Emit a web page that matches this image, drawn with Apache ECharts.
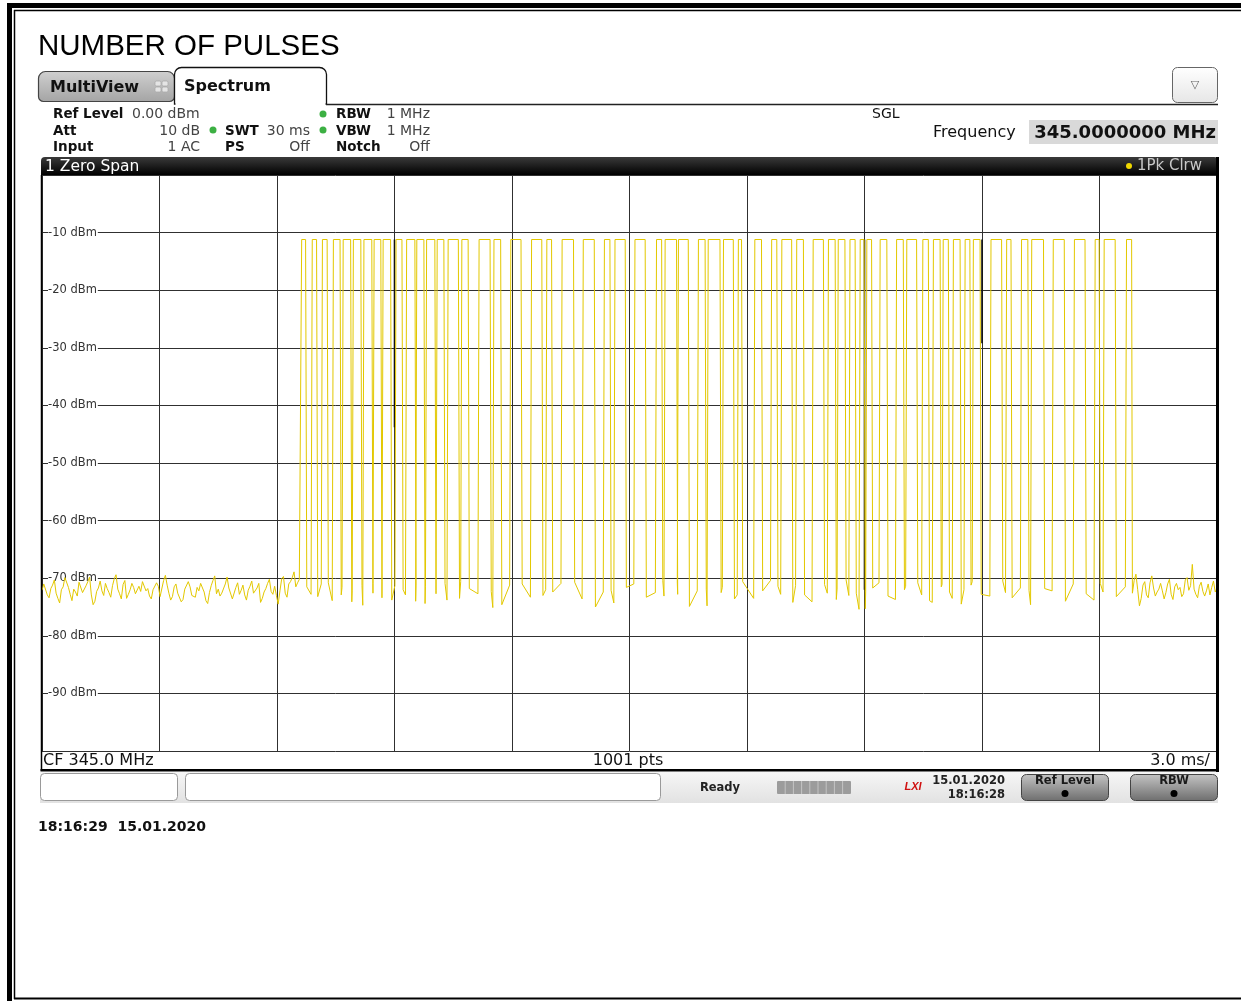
<!DOCTYPE html>
<html><head><meta charset="utf-8">
<script src="https://cdn.jsdelivr.net/npm/echarts@6/dist/echarts.min.js"></script>
<style>html,body{margin:0;padding:0;background:#fff}#c{width:1241px;height:1001px}</style>
</head><body><div id="c"></div>
<script>
// ---- data ----
const yTicks = [-10,-20,-30,-40,-50,-60,-70,-80,-90];
const pulseTop = -11.2;
const pulseRise = [6.63,6.90,7.16,7.44,7.69,7.95,8.22,8.48,8.71,9.04,9.31,9.57,9.82,10.09,10.37,10.72,11.16,11.54,11.97,12.50,12.89,13.28,13.82,14.36,14.63,15.14,15.69,15.91,16.25,16.76,17.01,17.40,17.78,18.20,18.63,18.89,19.27,19.69,20.08,20.33,20.63,20.89,21.06,21.40,21.82,22.08,22.49,22.76,23.01,23.27,23.57,23.78,24.23,24.63,25.01,25.27,25.82,26.36,26.89,27.12,27.69];
const pulseFall = [6.73,7.01,7.28,7.61,7.88,8.14,8.42,8.65,8.90,9.19,9.52,9.75,10.03,10.26,10.63,10.88,11.44,11.71,12.23,12.76,13.01,13.57,14.10,14.50,14.89,15.40,15.82,16.20,16.50,16.93,17.31,17.65,17.86,18.37,18.76,19.14,19.44,19.95,20.25,20.50,20.76,20.99,21.18,21.57,21.99,22.33,22.63,22.93,23.14,23.44,23.69,23.95,24.50,24.74,25.17,25.57,26.10,26.63,26.99,27.40,27.82];
const noiseLeft = [-72.1,-71.0,-70.8,-72.9,-73.4,-71.8,-71.2,-70.3,-72.6,-73.5,-74.3,-72.0,-71.5,-69.9,-70.2,
-71.6,-72.8,-73.9,-71.9,-72.4,-73.1,-70.7,-71.0,-72.5,-72.4,-71.3,-70.6,-69.8,-72.9,-74.6,
-74.0,-72.3,-71.7,-70.5,-72.2,-73.0,-70.9,-71.8,-72.5,-73.3,-71.3,-70.1,-69.4,-71.9,-72.7,
-73.6,-71.1,-70.4,-73.5,-72.8,-72.0,-70.9,-71.6,-72.7,-73.0,-71.4,-72.3,-70.6,-70.7,-72.2,
-71.8,-73.1,-73.6,-72.0,-72.1,-70.8,-71.4,-73.2,-72.9,-70.4,-69.5,-71.2,-72.6,-73.8,-73.2,
-71.5,-71.0,-72.6,-72.4,-74.1,-73.7,-71.9,-72.0,-70.6,-71.5,-73.0,-72.8,-73.3,-71.6,-72.2,
-70.9,-71.1,-72.4,-73.9,-74.4,-72.5,-71.3,-70.4,-69.6,-72.7,-71.9,-73.1,-72.6,-72.3,-71.0,
-69.8,-71.7,-72.0,-73.6,-73.4,-71.6,-70.8,-72.8,-72.1,-71.2,-72.9,-73.8,-72.1,-71.4,-70.5,
-72.6,-72.9,-71.7,-70.9,-74.2,-73.5,-72.4,-71.8,-70.9,-70.2,-72.3,-72.8,-71.4,-73.0,-74.5,
-72.2,-70.1,-69.7,-72.6,-73.3,-71.0,-70.6,-69.9,-68.9,-71.5,-70.8,-70.2];
const noiseRight = [-72.6,-70.4,-69.3,-72.0,-74.8,-73.5,-71.2,-70.6,-72.9,-73.4,
-70.8,-69.6,-71.7,-73.1,-72.4,-71.9,-70.9,-72.2,-73.6,-72.5,
-71.0,-70.2,-72.8,-73.7,-71.5,-70.9,-72.0,-71.6,-73.2,-72.7,
-70.3,-69.9,-72.1,-71.3,-67.6,-71.9,-72.8,-73.4,-71.4,-70.7,
-72.3,-73.1,-72.2,-71.0,-72.9,-71.6,-70.5,-72.4,-71.7];
const gapFloorA = [-71.5,-73.2,-70.8,-72.9,-74.1,-71.3,-72.6,-70.5,-73.8,-72.0,
-71.2,-74.4,-72.7,-70.9,-73.5,-71.8,-72.3,-74.6,-71.0,-73.0,
-72.4,-70.7,-75.0,-72.1,-71.6,-73.3,-70.4,-72.8,-74.9,-71.9,
-72.5,-73.6,-70.6,-72.2,-71.4,-74.2,-72.9,-71.1,-73.7,-70.3,
-72.6,-75.3,-71.7,-73.1,-72.0,-70.8,-73.9,-71.5,-72.4,-74.5,
-71.2,-72.8,-70.5,-73.4,-72.1,-71.8,-74.0,-72.7,-70.9,-73.2];
const gapFloorB = [-72.8,-71.0,-73.9,-71.6,-72.2,-74.7,-70.9,-73.4,-71.3,-72.9,
-74.0,-71.5,-72.1,-73.8,-70.6,-72.7,-75.1,-71.2,-73.3,-72.0,
-70.9,-73.6,-72.4,-74.3,-71.0,-72.5,-73.1,-70.7,-72.2,-74.8,
-71.6,-72.9,-73.5,-70.4,-72.8,-71.3,-74.1,-72.6,-71.9,-73.0,
-75.4,-72.3,-70.8,-73.7,-71.4,-72.9,-74.2,-71.1,-73.5,-72.0,
-70.6,-73.1,-72.5,-71.7,-74.6,-72.2,-71.0,-73.8,-72.4,-71.5];
// dark edge segments seen on the trace at some grid columns: [ms, top dBm, bottom dBm]
const darkEdgeMs = [9.0, 21.0, 24.0];
const darkEdgeLow = [-43.8, -72.0, -29.2];
const sweepMs = 30, pointMs = 0.03, noiseStepMs = 0.045, noiseRightStart = 27.84;

// ---- build trace ----
const trace = [];
noiseLeft.forEach((v,i)=>trace.push([+(i*noiseStepMs).toFixed(3), v]));
for (let i=0;i<pulseRise.length;i++){
  trace.push([pulseRise[i], pulseTop]);
  trace.push([pulseFall[i], pulseTop]);
  if (i < pulseRise.length-1){
    trace.push([+(pulseFall[i]+pointMs).toFixed(3), gapFloorA[i]]);
    trace.push([+(pulseRise[i+1]-pointMs).toFixed(3), gapFloorB[i]]);
  }
}
noiseRight.forEach((v,i)=>trace.push([+(noiseRightStart+i*noiseStepMs).toFixed(3), v]));
const edges = [];
darkEdgeMs.forEach((t,i)=>{ edges.push([t,pulseTop]); edges.push([t,darkEdgeLow[i]]); edges.push([t,null]); });

// ---- helpers ----
const UI = '"DejaVu Sans", Verdana, sans-serif';
function T(text,x,y,size,o){o=o||{};return {type:'text',silent:true,z:o.z||50,style:{text:text,x:x,y:y,font:(o.w||'normal')+' '+size+'px '+(o.f||UI),fill:o.c||'#000',align:o.a||'left',verticalAlign:o.va||'middle'}};}
function R(x,y,w,h,fill,o){o=o||{};return {type:'rect',silent:true,z:o.z||40,shape:{x:x,y:y,width:w,height:h,r:o.r||0},style:{fill:fill,stroke:o.s||null,lineWidth:o.lw||1}};}
function L(x1,y1,x2,y2,c,w,z){return {type:'line',silent:true,z:z||60,shape:{x1:x1,y1:y1,x2:x2,y2:y2},style:{stroke:c,lineWidth:w}};}
function C(cx,cy,r,fill,z){return {type:'circle',silent:true,z:z||60,shape:{cx:cx,cy:cy,r:r},style:{fill:fill}};}
function grad(a,b){return {type:'linear',x:0,y:0,x2:0,y2:1,colorStops:[{offset:0,color:a},{offset:1,color:b}]};}

const g = [];
// outer frame
g.push(R(7,3,1234,5,'#000',{z:90}));
g.push(R(7,3,5,998,'#000',{z:90}));
g.push(L(14,10.5,1241,10.5,'#000',1.5,90));
g.push(L(14.5,10,14.5,999,'#000',1.5,90));
g.push(L(14,998.5,1241,998.5,'#000',2,90));
// title
g.push(T('NUMBER OF PULSES',38,47,29.5,{f:'"Liberation Sans", Arial, sans-serif'}));
// tabs
g.push(R(38.5,71.5,136,30,grad('#d0d0d0','#a4a4a4'),{r:[7,7,5,5],s:'#444',lw:1.2}));
g.push(T('MultiView',50,88,16,{w:'bold',c:'#111'}));
g.push(R(155,81,6,5,'#e4e4e4',{r:1.5,s:'#aaa',lw:0.8,z:45}));
g.push(R(162,81,6,5,'#e4e4e4',{r:1.5,s:'#aaa',lw:0.8,z:45}));
g.push(R(155,87,6,5,'#e4e4e4',{r:1.5,s:'#aaa',lw:0.8,z:45}));
g.push(R(162,87,6,5,'#e4e4e4',{r:1.5,s:'#aaa',lw:0.8,z:45}));
g.push(R(174.5,67.5,152,36.5,'#fff',{r:[7,7,0,0],s:'#111',lw:1.3,z:45}));
g.push(L(175.5,104.2,325.5,104.2,'#fff',2.2,47));
g.push(T('Spectrum',184,87,16,{w:'bold',c:'#111'}));
g.push(L(326,104.5,1218,104.5,'#222',1.5));
// dropdown button
g.push(R(1172.5,67.5,45,35,grad('#ffffff','#e6e6e6'),{r:5,s:'#666',lw:1}));
g.push(T('\u25BD',1195,85,11,{c:'#666',a:'center'}));
// info block
const lab={w:'bold',c:'#111'}, val={c:'#444'};
g.push(T('Ref Level',53,114,13.5,lab)); g.push(T('0.00 dBm',132,114,14,val));
g.push(T('Att',53,131,13.5,lab)); g.push(T('10 dB',200,131,14,Object.assign({a:'right'},val)));
g.push(T('Input',53,147,13.5,lab)); g.push(T('1 AC',200,147,14,Object.assign({a:'right'},val)));
g.push(C(213,130,3.5,'#3cb043')); g.push(T('SWT',225,131,13.5,lab)); g.push(T('30 ms',310,131,14,Object.assign({a:'right'},val)));
g.push(T('PS',225,147,13.5,lab)); g.push(T('Off',310,147,14,Object.assign({a:'right'},val)));
g.push(C(323,114,3.5,'#3cb043')); g.push(T('RBW',336,114,13.5,lab)); g.push(T('1 MHz',430,114,14,Object.assign({a:'right'},val)));
g.push(C(323,130,3.5,'#3cb043')); g.push(T('VBW',336,131,13.5,lab)); g.push(T('1 MHz',430,131,14,Object.assign({a:'right'},val)));
g.push(T('Notch',336,147,13.5,lab)); g.push(T('Off',430,147,14,Object.assign({a:'right'},val)));
g.push(T('SGL',872,114,14,{c:'#111'}));
g.push(T('Frequency',933,133,16,{c:'#111'}));
g.push(R(1029,120,189,24,'#d9d9d9'));
g.push(T('345.0000000 MHz',1216,133,18,{w:'bold',c:'#111',a:'right'}));
// zero span bar
g.push(R(41,157,1177,18,grad('#3a3a3a','#000000'),{r:[4,4,0,0],z:45}));
g.push(T('1 Zero Span',45,166.5,15.5,{c:'#fff'}));
g.push(C(1129,166,3,'#f0d800'));
g.push(T('1Pk Clrw',1202,166.5,15,{c:'#c8c8c8',a:'right'}));
// plot frame
g.push(L(41.5,175,41.5,771,'#000',1.5,80));
g.push(R(1216,157,3,615,'#000',{z:80}));
g.push(R(40.5,769,1178.5,2.5,'#000',{z:80}));
g.push(T('CF 345.0 MHz',43,760.5,16,{c:'#111'}));
g.push(T('1001 pts',628,760.5,16,{c:'#111',a:'center'}));
g.push(T('3.0 ms/',1210,760.5,16,{c:'#111',a:'right'}));
// status bar
g.push(R(40,772,1178,31,grad('#f6f6f6','#e2e2e2'),{z:30}));
g.push(R(40.5,773.5,137,27,'#fff',{r:4,s:'#9a9a9a'}));
g.push(R(185.5,773.5,475,27,'#fff',{r:4,s:'#9a9a9a'}));
g.push(T('Ready',720,788,11.5,{w:'bold',c:'#222',a:'center'}));
g.push(R(777,781,74,13,'#9c9c9c',{r:1}));
for (let k=1;k<9;k++) g.push(L(777+k*8.2,781,777+k*8.2,794,'#c4c4c4',1,45));
g.push(T('LXI',913,787,11,{w:'bold italic',c:'#d01010',a:'center',f:'"Liberation Sans", Arial, sans-serif'}));
g.push(T('15.01.2020',1005,781,11.5,{w:'bold',c:'#222',a:'right'}));
g.push(T('18:16:28',1005,795,11.5,{w:'bold',c:'#222',a:'right'}));
g.push(R(1021.5,774.5,87,26,grad('#c4c4c4','#6e6e6e'),{r:5,s:'#444'}));
g.push(T('Ref Level',1065,781.5,11.5,{w:'bold',c:'#1a1a1a',a:'center'}));
g.push(C(1065,793.5,3.5,'#000',50));
g.push(R(1130.5,774.5,87,26,grad('#c4c4c4','#6e6e6e'),{r:5,s:'#444'}));
g.push(T('RBW',1174,781.5,11.5,{w:'bold',c:'#1a1a1a',a:'center'}));
g.push(C(1174,793.5,3.5,'#000',50));
// footer
g.push(T('18:16:29  15.01.2020',38,827,14,{w:'bold',c:'#111'}));

const chart = echarts.init(document.getElementById('c'), null, {renderer:'canvas'});
chart.setOption({
  animation:false,
  backgroundColor:'#fff',
  grid:{left:42,top:175,width:1175,height:576,containLabel:false},
  xAxis:{type:'value',min:0,max:sweepMs,interval:3,axisLine:{show:false},axisTick:{show:false},axisLabel:{show:false},
    splitLine:{show:true,lineStyle:{color:'#303030',width:1}}},
  yAxis:{type:'value',min:-100,max:0,interval:10,axisLine:{show:false},axisTick:{show:false},
    axisLabel:{inside:true,margin:6,fontFamily:'"DejaVu Sans", Verdana, sans-serif',fontSize:11.5,color:'#333',
      backgroundColor:'#fff',padding:[0,1,0,0],
      formatter:function(v){return yTicks.indexOf(v)>=0 ? v+' dBm' : '';}},
    splitLine:{show:true,lineStyle:{color:'#303030',width:1}}},
  series:[
    {type:'line',name:'edges',data:edges,showSymbol:false,symbol:'none',z:4,connectNulls:false,
      lineStyle:{color:'#111',width:1.6},emphasis:{disabled:true}},
    {type:'line',name:'1Pk Clrw',data:trace,showSymbol:false,symbol:'none',z:5,
      lineStyle:{color:'#e3c800',width:1},emphasis:{disabled:true}}],
  graphic:{elements:g}
});
</script></body></html>
